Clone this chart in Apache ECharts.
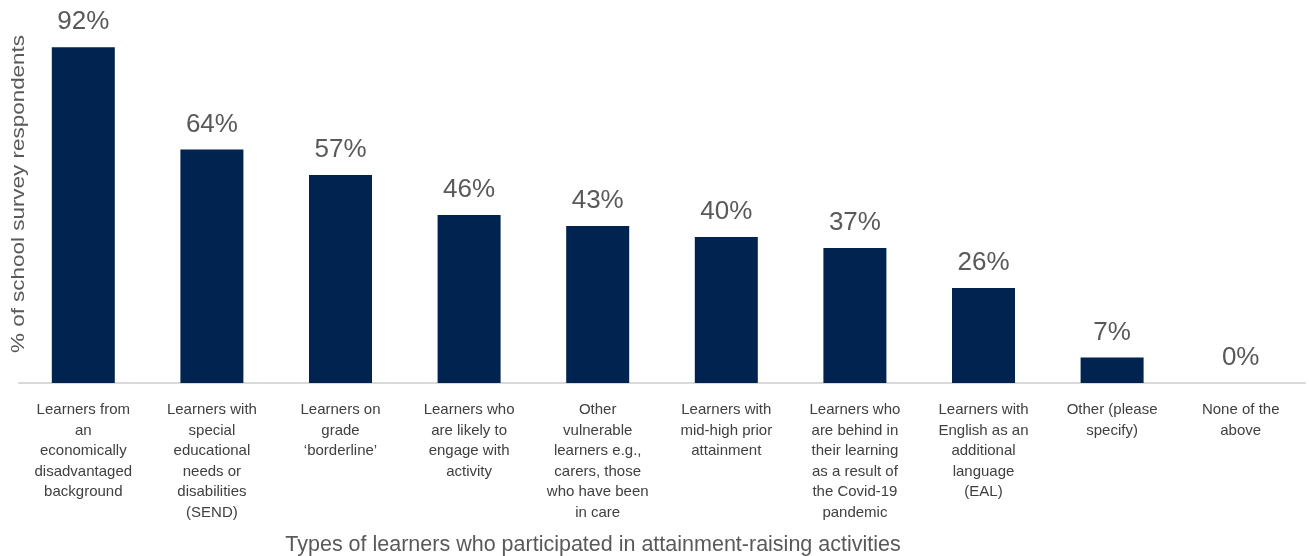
<!DOCTYPE html>
<html>
<head>
<meta charset="utf-8">
<script src="https://cdn.jsdelivr.net/npm/echarts@6/dist/echarts.min.js"></script>
<style>
  html, body { margin: 0; padding: 0; background: #ffffff; }
  #chart { width: 1309px; height: 556px; }
</style>
</head>
<body>
<div id="chart"></div>
<script>
// Learner groups (line breaks follow the printed wrapping)
const categories = [
  "Learners from\nan\neconomically\ndisadvantaged\nbackground",
  "Learners with\nspecial\neducational\nneeds or\ndisabilities\n(SEND)",
  "Learners on\ngrade\n\u2018borderline\u2019",
  "Learners who\nare likely to\nengage with\nactivity",
  "Other\nvulnerable\nlearners e.g.,\ncarers, those\nwho have been\nin care",
  "Learners with\nmid-high prior\nattainment",
  "Learners who\nare behind in\ntheir learning\nas a result of\nthe Covid-19\npandemic",
  "Learners with\nEnglish as an\nadditional\nlanguage\n(EAL)",
  "Other (please\nspecify)",
  "None of the\nabove"
];

// Share of school survey respondents (%)
const percentages = [92, 64, 57, 46, 43, 40, 37, 26, 7, 0];

const xAxisTitle = "Types of learners who participated in attainment-raising activities";
const yAxisTitle = "% of school survey respondents";

const chart = echarts.init(document.getElementById('chart'), null, { renderer: 'canvas' });

const fontFamily = 'Liberation Sans, Arial, sans-serif';

chart.setOption({
  animation: false,
  backgroundColor: '#ffffff',
  grid: { left: 19, right: 4, top: 18, bottom: 173, containLabel: false },
  xAxis: {
    type: 'category',
    data: categories,
    axisLine: { show: true, lineStyle: { color: '#d9d9d9', width: 2 } },
    axisTick: { show: false },
    axisLabel: {
      interval: 0,
      color: '#404040',
      fontFamily: fontFamily,
      fontSize: 15,
      lineHeight: 20.5,
      margin: 17,
      align: 'center'
    }
  },
  yAxis: {
    type: 'value',
    min: 0,
    max: 100,
    show: false
  },
  series: [{
    type: 'bar',
    data: percentages,
    barWidth: 63,
    itemStyle: { color: '#00234f' },
    label: {
      show: true,
      position: 'top',
      distance: 12,
      formatter: '{c}%',
      color: '#595959',
      fontFamily: fontFamily,
      fontSize: 26
    }
  }],
  graphic: [
    {
      type: 'text',
      x: 593,
      y: 545,
      style: {
        text: xAxisTitle,
        fill: '#595959',
        font: '21.5px ' + fontFamily,
        textAlign: 'center',
        textVerticalAlign: 'middle'
      }
    },
    {
      type: 'text',
      x: 19,
      y: 194,
      rotation: Math.PI / 2,
      scaleX: 1.22,
      style: {
        text: yAxisTitle,
        fill: '#595959',
        font: '18.4px ' + fontFamily,
        textAlign: 'center',
        textVerticalAlign: 'middle'
      }
    }
  ]
});
</script>
</body>
</html>
